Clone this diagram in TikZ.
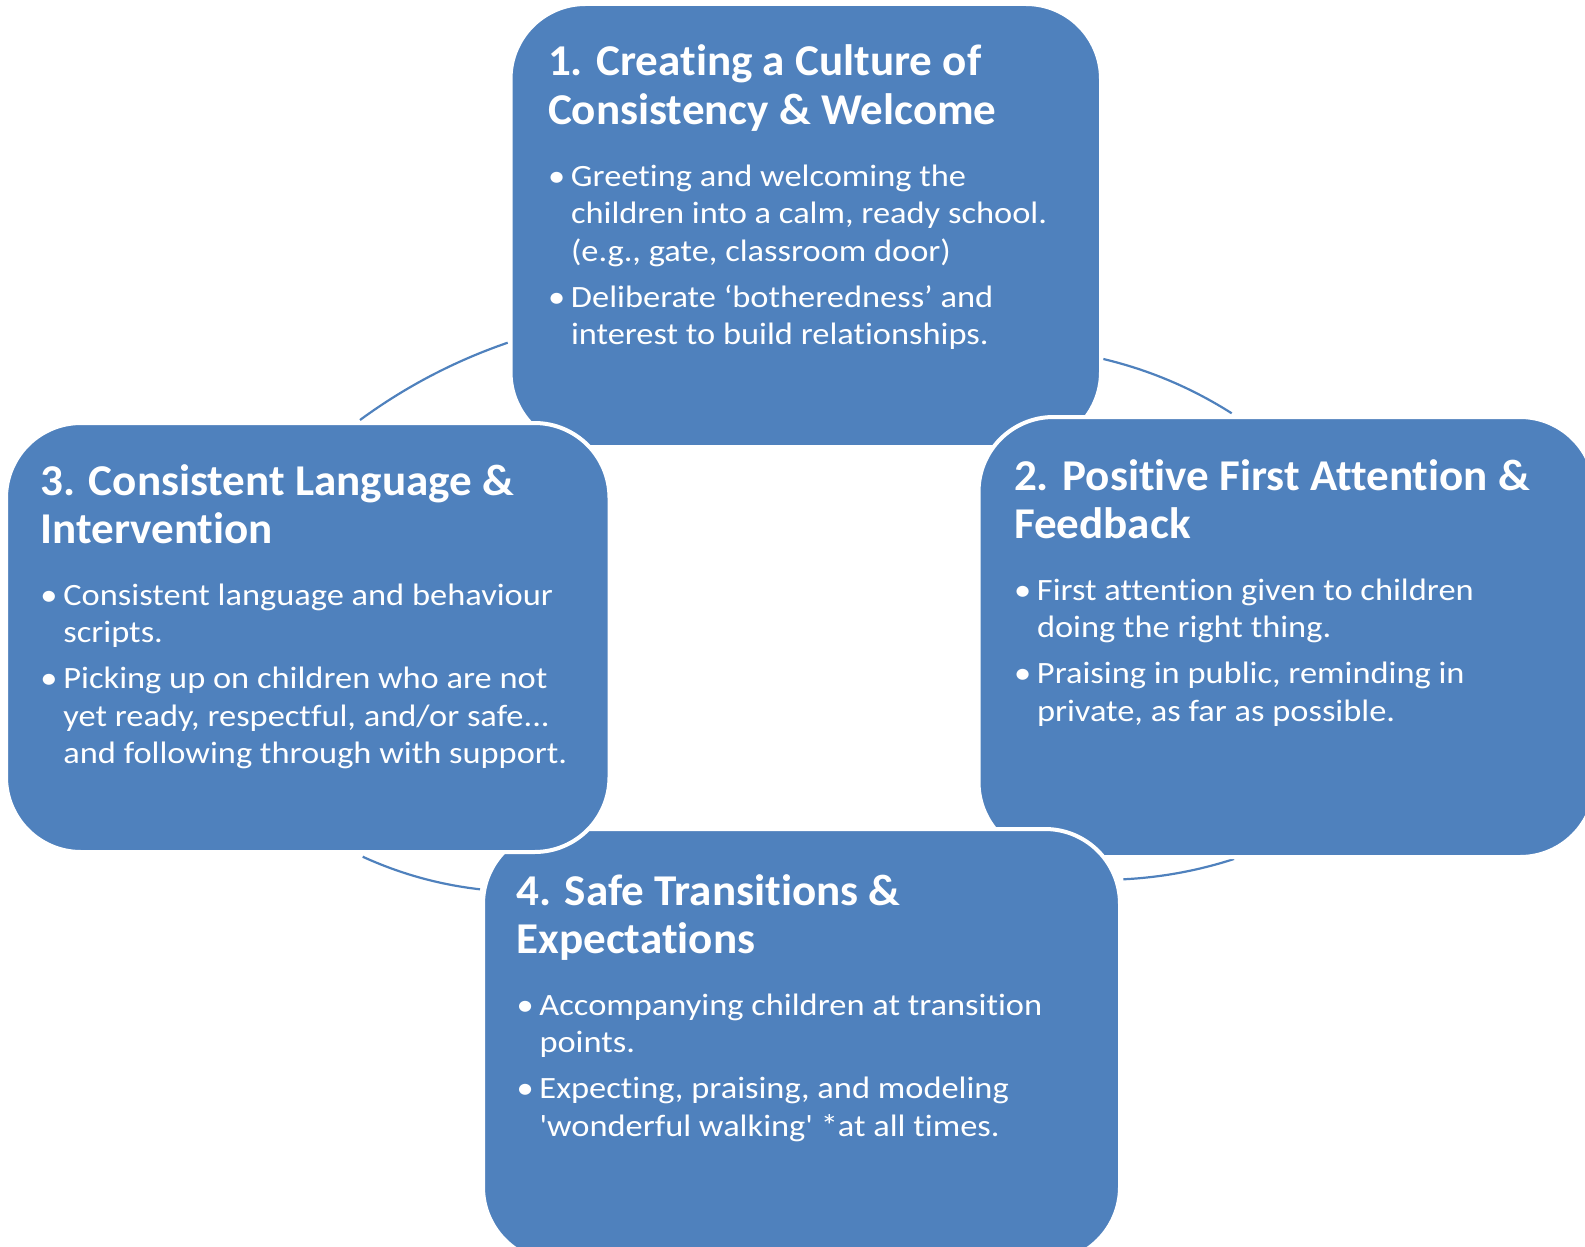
\documentclass[tikz,border=0pt]{standalone}
\usepackage{fontspec}
\setmainfont{Carlito}[Ligatures=CommonOff]
\newfontfamily\titlefont{Carlito}[Ligatures=CommonOff, FakeStretch=1.025]
\newfontfamily\bodyfont{Carlito}[Ligatures=CommonOff, FakeStretch=1.11]
\newfontfamily\rawq{Carlito}[FakeStretch=1.11]
\definecolor{boxblue}{HTML}{4F81BD}
\tikzset{
  panel/.style={rectangle, draw=white, line width=4pt, fill=boxblue, rounded corners=75pt,
    inner sep=0pt, outer sep=0pt, anchor=north west},
  link/.style={draw=boxblue, line width=2.2pt},
  txt/.style={anchor=base west, inner sep=0pt, outer sep=0pt, text=white},
}
\newcommand{\ttl}[1]{{\titlefont\fontsize{44}{48.3}\selectfont\bfseries #1\par}\vspace{24.6pt}}
\newcommand{\bul}[1]{{\bodyfont\fontsize{31}{37.4}\selectfont\hangindent=23pt\hangafter=1\noindent\makebox[23pt][l]{\textbullet}#1\par}}
\newcommand{\gap}{\vspace{8.6pt}}
\newcommand{\blk}[1]{\begin{minipage}[t]{600pt}#1\end{minipage}}
\begin{document}
\begin{tikzpicture}[x=1pt,y=-1pt]
\useasboundingbox (0,0) rectangle (1585,1247);
\clip (0,0) rectangle (1585,1247);
% connecting arcs
\coordinate (a1) at (360,420);   \coordinate (a2) at (507.7,342.7);
\coordinate (b1) at (1103.3,359); \coordinate (b2) at (1231.7,413.3);
\coordinate (c1) at (362.7,856.7); \coordinate (c2) at (480,889.3);
\coordinate (d1) at (1123.3,879.3); \coordinate (d2) at (1234,859);
\draw[link] (a1) .. controls (405.32,386.75) and (454.55,360.99) .. (a2);
\draw[link] (b1) .. controls (1149.14,369.91) and (1191.94,388.01) .. (b2);
\draw[link] (c1) .. controls (400.07,873.79) and (439.17,884.65) .. (c2);
\draw[link] (d1) .. controls (1161.1,877.44) and (1198.0,870.67) .. (d2);
% box 1
\node[panel, minimum width=590.5pt, minimum height=443pt] (box1) at (510.5,4) {};
\node[txt] (t1) at (548,76) {\blk{\ttl{1. Creating a Culture of\\Consistency \& Welcome}%
\bul{Greeting and welcoming the\\children into a calm, ready school.\\(e.g., gate, classroom door)}\gap
\bul{Deliberate ‘botheredness’ and\\interest to build relationships.}}};
% box 2
\node[panel, minimum width=616.5pt, minimum height=440pt] (box2) at (978.5,417) {};
\node[txt] (t2) at (1014,490) {\blk{\ttl{2. Positive First Attention \&\\Feedback}%
\bul{First attention given to children\\doing the right thing.}\gap
\bul{Praising in public, reminding in\\private, as far as possible.}}};
% box 4
\node[panel, minimum width=637pt, minimum height=433pt] (box4) at (483,829) {};
\node[txt] (t4) at (516.5,905) {\blk{\ttl{4. Safe Transitions \&\\Expectations}%
\bul{Accompanying children at transition\\points.}\gap
\bul{Expecting, praising, and modeling\\{\rawq'}wonderful walking{\rawq'} *at all times.}}};
% box 3
\node[panel, minimum width=603.5pt, minimum height=429pt] (box3) at (6,423) {};
\node[txt] (t3) at (40.4,495) {\blk{\ttl{3. Consistent Language \&\\Intervention}%
\bul{Consistent language and behaviour\\scripts.}\gap
\bul{Picking up on children who are not\\yet ready, respectful, and/or safe...\\and following through with support.}}};
\end{tikzpicture}
\end{document}
